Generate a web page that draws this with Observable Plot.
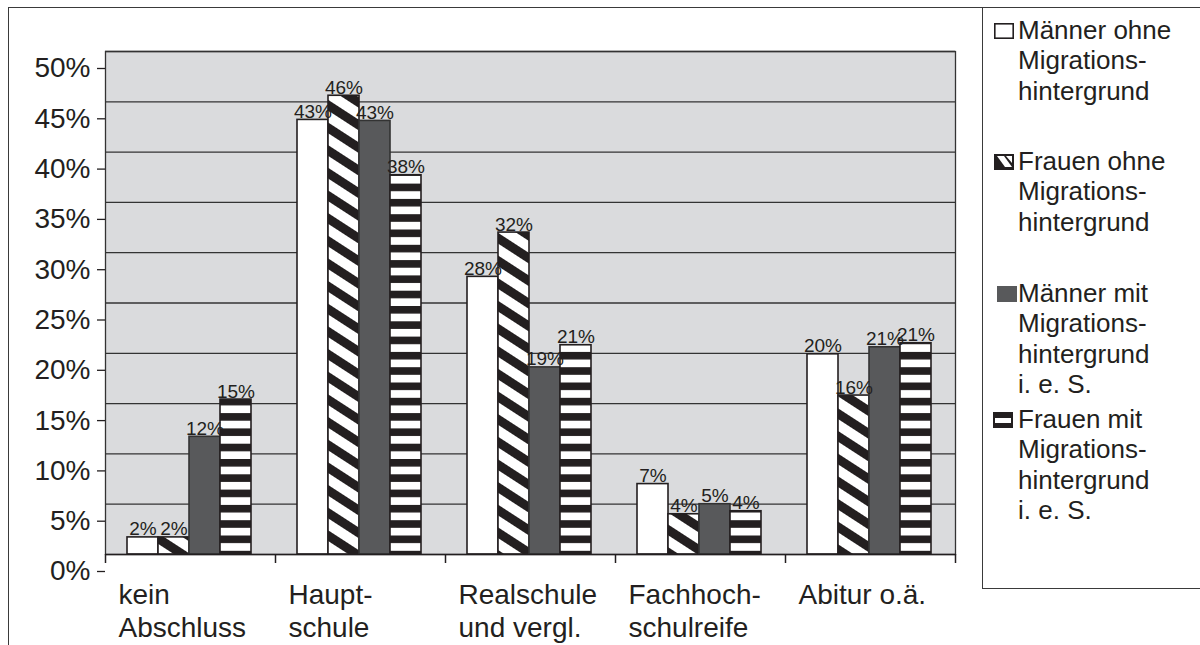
<!DOCTYPE html>
<html><head><meta charset="utf-8">
<script src="https://cdn.jsdelivr.net/npm/d3@7"></script>
<script src="https://cdn.jsdelivr.net/npm/@observablehq/plot@0.6"></script>
<style>
body{margin:0;background:#fff;font-family:"Liberation Sans",Arial,sans-serif;color:#231f20;}
#wrap{position:relative;width:1200px;height:645px;overflow:hidden;}
#outer{position:absolute;left:8px;top:7px;width:1300px;height:700px;border:1.5px solid #3a3a3a;box-sizing:border-box}
#chart{position:absolute;left:0;top:0;}
#legend{position:absolute;left:982px;top:7px;width:300px;height:582px;border:1.5px solid #3a3a3a;box-sizing:border-box;background:#fff}
.item{position:absolute;left:1018px;font-size:26px;line-height:30.5px;white-space:pre;}
.sw{position:absolute;}
</style></head>
<body>
<div id="wrap"><div id="outer"></div><div id="chart"></div><div id="legend"></div></div>
<script>
const categories = ["kein\nAbschluss", "Haupt-\nschule", "Realschule\nund vergl.", "Fachhoch-\nschulreife", "Abitur o.ä."];
const seriesNames = [
  "Männer ohne\nMigrations-\nhintergrund",
  "Frauen ohne\nMigrations-\nhintergrund",
  "Männer mit\nMigrations-\nhintergrund\ni. e. S.",
  "Frauen mit\nMigrations-\nhintergrund\ni. e. S."
];
const maennerOhne = [0.017, 0.432, 0.276, 0.070, 0.199];
const frauenOhne  = [0.017, 0.456, 0.320, 0.040, 0.158];
const maennerMit  = [0.117, 0.431, 0.186, 0.050, 0.206];
const frauenMit   = [0.154, 0.377, 0.208, 0.043, 0.210];
const yTicks = [0, 0.05, 0.10, 0.15, 0.20, 0.25, 0.30, 0.35, 0.40, 0.45, 0.50];

const seriesValues = [maennerOhne, frauenOhne, maennerMit, frauenMit];
const rows = seriesValues.map((vals, s) => categories.map((c, i) => ({cat: c, series: s, value: vals[i]})));

const W = 1200, H = 645, ML = 105, MR = 245, MT = 51, MB = 91;
const bandW = (W - ML - MR) / categories.length;
const barW = 31, groupOff = 22;
const ink = "#231f20";
const fills = ["#ffffff", "url(#diag)", "#58595b", "url(#hstripe)"];
const fmt = d3.format(".0%");

const chart = Plot.plot({
  width: W, height: H,
  marginLeft: ML, marginRight: MR, marginTop: MT, marginBottom: MB,
  style: {fontFamily: "'Liberation Sans', Arial, sans-serif", background: "transparent", color: ink, overflow: "visible"},
  x: {domain: categories, padding: 0, axis: null},
  y: {domain: [0, 0.5], axis: null},
  marks: [
    Plot.frame({fill: "#dadbdd"}),
    Plot.ruleY(yTicks.filter(d => d > 0), {stroke: "#333", strokeWidth: 1.3}),
    ...rows.map((r, s) => Plot.barY(r, {
      x: "cat", y: "value", fill: fills[s], stroke: s === 2 ? "#333" : ink, strokeWidth: 1.6,
      insetLeft: groupOff + barW * s, insetRight: bandW - groupOff - barW * (s + 1)
    })),
    Plot.frame({stroke: "#333", strokeWidth: 1.3}),
    Plot.ruleY([0], {stroke: ink, strokeWidth: 1.6}),
    Plot.ruleX(categories, {x: d => d, dx: -bandW / 2, y1: 0, y2: 0, insetBottom: -9, stroke: ink, strokeWidth: 1.5}),
    Plot.ruleX(categories.slice(-1), {x: d => d, dx: bandW / 2, y1: 0, y2: 0, insetBottom: -9, stroke: ink, strokeWidth: 1.5}),
    Plot.axisY(yTicks, {tickFormat: fmt, tickSize: 8, tickPadding: 7, fontSize: 28, dy: 17, label: null, stroke: ink, strokeWidth: 1.3}),
    ...rows.map((r, s) => Plot.text(r, {
      x: "cat", y: "value", text: d => fmt(d.value),
      dx: -bandW / 2 + groupOff + barW * (s + 0.5), dy: -2,
      lineAnchor: "bottom", fontSize: 19, fill: ink
    })),
    Plot.text(categories, {
      x: d => d, text: d => d, frameAnchor: "bottom",
      textAnchor: "start", lineAnchor: "top", dx: -bandW / 2 + 13, dy: 26,
      fontSize: 28, lineHeight: 33 / 28, fill: ink
    })
  ]
});

d3.select(chart).insert("defs", ":first-child").html(`
<pattern id="diag" patternUnits="userSpaceOnUse" width="19" height="19" patternTransform="rotate(33)">
  <rect width="19" height="19" fill="#fff"/><rect width="19" height="9" fill="${ink}"/>
</pattern>
<pattern id="hstripe" patternUnits="userSpaceOnUse" width="10" height="15.3">
  <rect width="10" height="15.3" fill="#fff"/><rect width="10" height="7.6" fill="${ink}"/>
</pattern>`);
document.getElementById("chart").appendChild(chart);

// legend (right side box)
const wrap = document.getElementById("wrap");
const baselines = [39, 170, 302, 428];
const swatches = [
  `<rect x="0.8" y="0.8" width="18.4" height="14.4" fill="#fff" stroke="${ink}" stroke-width="1.6"/>`,
  `<rect x="0" y="0" width="20" height="16" fill="${ink}"/><polygon points="3,2 10,2 18,13 11,13" fill="#fff"/><polygon points="12,2 18,2 18,9" fill="#fff"/>`,
  `<rect x="0" y="0" width="20" height="16" fill="#58595b"/>`,
  `<rect x="0" y="0" width="20" height="16" fill="${ink}"/><rect x="2" y="6" width="16" height="5" fill="#fff"/>`
];
const swX = [994, 994, 997, 993];
seriesNames.forEach((name, i) => {
  const t = document.createElement("div");
  t.className = "item";
  t.style.top = (baselines[i] - 24.3) + "px";
  t.textContent = name;
  wrap.appendChild(t);
  const sw = document.createElementNS("http://www.w3.org/2000/svg", "svg");
  sw.setAttribute("class", "sw");
  sw.setAttribute("width", 20); sw.setAttribute("height", 16);
  sw.style.left = swX[i] + "px";
  sw.style.top = (baselines[i] - 16) + "px";
  sw.innerHTML = swatches[i];
  wrap.appendChild(sw);
});
</script>
</body></html>
